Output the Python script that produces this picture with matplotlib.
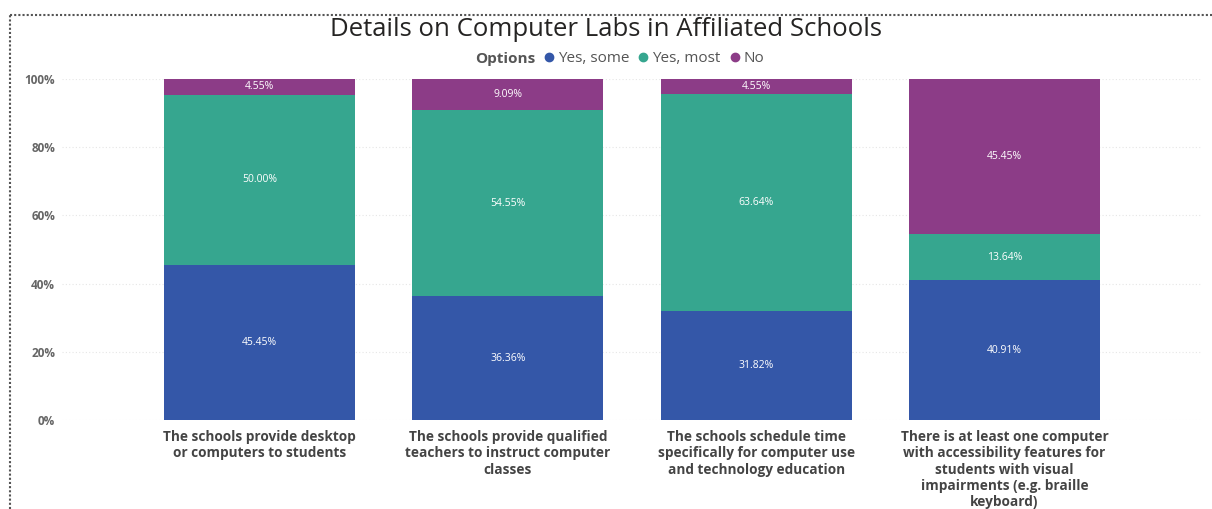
import numpy as np
import matplotlib.pyplot as plt
from matplotlib.lines import Line2D

# data
categories = [
    "The schools provide desktop\nor computers to students",
    "The schools provide qualified\nteachers to instruct computer\nclasses",
    "The schools schedule time\nspecifically for computer use\nand technology education",
    "There is at least one computer\nwith accessibility features for\nstudents with visual\nimpairments (e.g. braille\nkeyboard)",
]
yes_some = [45.45, 36.36, 31.82, 40.91]
yes_most = [50.00, 54.55, 63.64, 13.64]
no = [4.55, 9.09, 4.55, 45.45]
series_names = ["Yes, some", "Yes, most", "No"]
colors = ["#3457a8", "#36a68f", "#8c3c87"]

plt.rcParams["font.family"] = ["Open Sans", "DejaVu Sans"]

fig = plt.figure(figsize=(12.12, 5.09), dpi=100)
ax = fig.add_axes([62 / 1212, 1 - 420 / 509, 1140 / 1212, 341 / 509])

x = np.arange(len(categories))
bottom = np.zeros(len(categories))
for name, vals, c in zip(series_names, [yes_some, yes_most, no], colors):
    vals = np.array(vals)
    ax.bar(x, vals, width=0.77, bottom=bottom, color=c, zorder=2)
    for xi, b, v in zip(x, bottom, vals):
        ax.text(xi, b + v / 2, f"{v:.2f}%", ha="center", va="center",
                color="white", fontsize=7.5, zorder=3)
    bottom = bottom + vals

ax.set_xlim(-0.795, 3.795)
ax.set_ylim(0, 100)
ax.set_yticks([0, 20, 40, 60, 80, 100])
ax.set_yticklabels([f"{t}%" for t in [0, 20, 40, 60, 80, 100]],
                   fontsize=8.5, color="#666666", fontweight="bold")
ax.set_xticks(x)
ax.set_xticklabels(categories, fontsize=9.8, color="#444444", fontweight="bold",
                   linespacing=1.22)
ax.tick_params(axis="y", length=0, pad=5)
ax.tick_params(axis="x", length=0, pad=7)
ax.grid(axis="y", color="#e6e6e6", linestyle=(0, (1, 2)), linewidth=0.8, zorder=0)
for s in ax.spines.values():
    s.set_visible(False)

fig.text(0.5, 1 - 30 / 509, "Details on Computer Labs in Affiliated Schools",
         ha="center", va="center", fontsize=18.5, color="#252423")

# legend: bold "Options" title followed by coloured dots
handles = [Line2D([], [], linestyle="none")] + [
    Line2D([], [], marker="o", linestyle="none", color=c, markersize=6) for c in colors]
leg = fig.legend(handles, ["Options"] + series_names, loc="center",
                 bbox_to_anchor=(0.505, 1 - 59 / 509), ncol=4, frameon=False,
                 fontsize=11, handlelength=0.8, handletextpad=0.2, columnspacing=0.5)
for t in leg.get_texts():
    t.set_color("#555555")
leg.get_texts()[0].set_fontweight("bold")

# dotted frame of the report visual
fig.add_artist(Line2D([10 / 1212, 1], [1 - 15 / 509, 1 - 15 / 509], transform=fig.transFigure,
                      color="#555555", linestyle=(0, (1, 1)), linewidth=1.5))
fig.add_artist(Line2D([10 / 1212, 10 / 1212], [0, 1 - 15 / 509], transform=fig.transFigure,
                      color="#555555", linestyle=(0, (1, 1)), linewidth=1.5))

fig.savefig("out.png", dpi=100)
